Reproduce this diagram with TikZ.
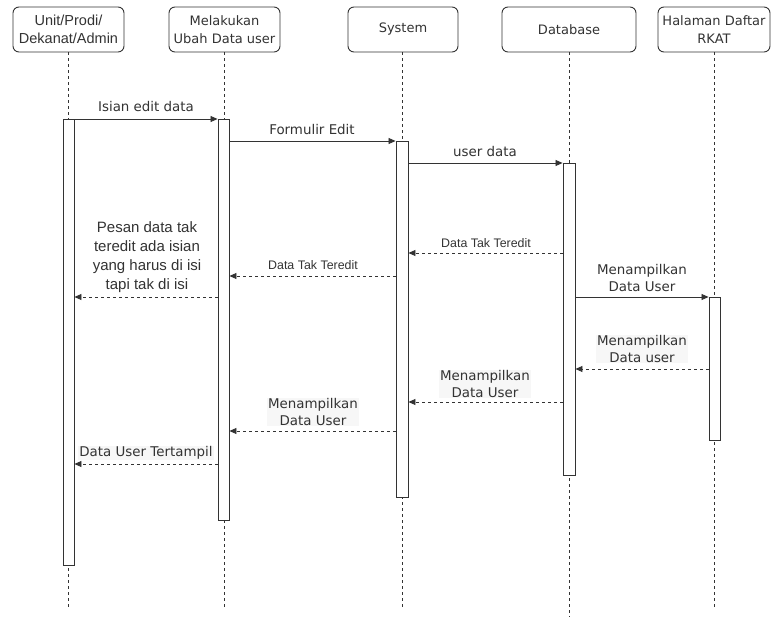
\documentclass[tikz,border=0pt]{standalone}
\usepackage{fontspec}
\setmainfont{DejaVu Sans}
\newfontfamily\arialf{Liberation Sans}
\usetikzlibrary{arrows.meta}
\definecolor{ink}{HTML}{333333}
\definecolor{lblbg}{HTML}{F7F7F7}
\begin{document}
\begin{tikzpicture}[x=1pt,y=-1pt,
  head/.style={draw=ink, line width=0.9pt, rounded corners=6pt, fill=white,
    minimum height=45pt, align=center, inner sep=1pt, text=ink,
    font=\fontsize{13}{18}\selectfont},
  bar/.style={draw=ink, line width=0.9pt, fill=white, minimum width=11pt, inner sep=0pt},
  life/.style={draw=ink, line width=0.7pt, dash pattern=on 3pt off 3pt},
  msg/.style={draw=ink, line width=0.8pt, -{Triangle[length=7pt,width=6pt]}},
  ret/.style={msg, dash pattern=on 3pt off 3pt},
  lbl/.style={text=ink, align=center, inner sep=1pt, font=\fontsize{13.4}{16.5}\selectfont},
  lbls/.style={text=ink, align=center, inner sep=1pt, font=\arialf\fontsize{12.4}{14}\selectfont},
  lbla/.style={text=ink, align=center, inner sep=1pt, font=\arialf\fontsize{15}{19}\selectfont},
]
\useasboundingbox (0,0) rectangle (774,624);
\fill[white] (0,0) rectangle (774,624);

% participants
\node[head, minimum width=111pt, font=\arialf\fontsize{14.5}{18}\selectfont] (p1) at (68.5,29.5) {Unit/Prodi/\\Dekanat/Admin};
\node[head, minimum width=111pt] (p2) at (224.5,29.5) {Melakukan\\Ubah Data user};
\node[head, minimum width=110pt] (p3) at (403,29.5) {System};
\node[head, minimum width=134pt] (p4) at (569,29.5) {Database};
\node[head, minimum width=112pt] (p5) at (714,29.5) {Halaman Daftar\\RKAT};

% lifeline ends
\coordinate (e1) at (68.5,610);
\coordinate (e2) at (224,610);
\coordinate (e3) at (402.5,610);
\coordinate (e4) at (569,617);
\coordinate (e5) at (714.5,610);
\draw[life] (p1.south -| e1) -- (e1);
\draw[life] (p2.south -| e2) -- (e2);
\draw[life] (p3.south -| e3) -- (e3);
\draw[life] (p4.south -| e4) -- (e4);
\draw[life] (p5.south -| e5) -- (e5);

% activation bars
\node[bar, minimum height=446pt] (b1) at (68.5,342) {};
\node[bar, minimum height=401pt] (b2) at (223.5,319.5) {};
\node[bar, minimum width=12pt, minimum height=356pt] (b3) at (402,319) {};
\node[bar, minimum width=12pt, minimum height=312pt] (b4) at (569,319) {};
\node[bar, minimum height=143pt] (b5) at (714.5,368.5) {};

% messages
\draw[msg] (b1.east |- 0,119) -- (b2.west |- 0,119);
\node[lbl] (t1) at (146,107) {Isian edit data};

\draw[msg] (b2.east |- 0,141) -- (b3.west |- 0,141);
\node[lbl] (t2) at (312,130) {Formulir Edit};

\draw[msg] (b3.east |- 0,163) -- (b4.west |- 0,163);
\node[lbl] (t3) at (485,152) {user data};

\draw[ret] (b4.west |- 0,253) -- (b3.east |- 0,253);
\node[lbls] (t4) at (486,243) {Data Tak Teredit};

\draw[ret] (b3.west |- 0,276) -- (b2.east |- 0,276);
\node[lbls] (t5) at (313,265) {Data Tak Teredit};

\draw[ret] (b2.west |- 0,297) -- (b1.east |- 0,297);
\node[lbla] (t6) at (147,257) {Pesan data tak\\teredit ada isian\\yang harus di isi\\tapi tak di isi};

\draw[msg] (b4.east |- 0,297) -- (b5.west |- 0,297);
\node[lbl, fill=white] (t7) at (642,278) {Menampilkan\\Data User};

\draw[ret] (b5.west |- 0,369) -- (b4.east |- 0,369);
\node[lbl, fill=lblbg] (t8) at (642,349) {Menampilkan\\Data user};

\draw[ret] (b4.west |- 0,402) -- (b3.east |- 0,402);
\node[lbl, fill=lblbg] (t9) at (485,384) {Menampilkan\\Data User};

\draw[ret] (b3.west |- 0,431) -- (b2.east |- 0,431);
\node[lbl, fill=lblbg] (t10) at (313,412) {Menampilkan\\Data User};

\draw[ret] (b2.west |- 0,464) -- (b1.east |- 0,464);
\node[lbl, fill=lblbg] (t11) at (146,453) {Data User Tertampil};
\end{tikzpicture}
\end{document}
